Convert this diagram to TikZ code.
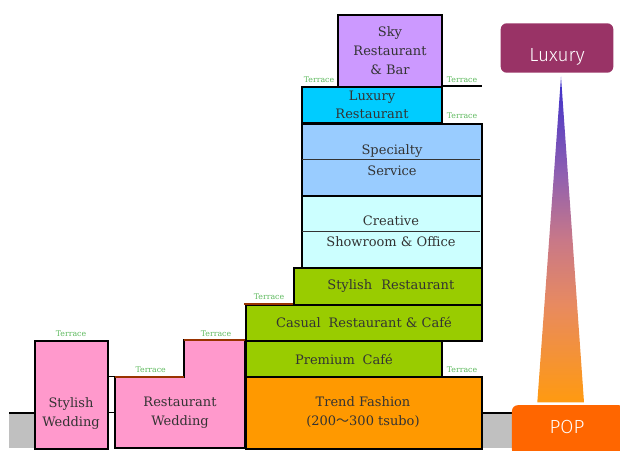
\documentclass[tikz,border=0pt]{standalone}
\usepackage{fontspec}
\newfontfamily\cjk{Noto Sans CJK JP}
\newfontfamily\tagfont{Fira Sans Light}
\newfontfamily\boxfont{DejaVu Serif}
\definecolor{skyc}{HTML}{CC99FF}
\definecolor{luxr}{HTML}{00CCFF}
\definecolor{spec}{HTML}{99CCFF}
\definecolor{crea}{HTML}{CCFFFF}
\definecolor{grn}{HTML}{99CC00}
\definecolor{trend}{HTML}{FF9900}
\definecolor{pinkc}{HTML}{FF99CC}
\definecolor{greyc}{HTML}{C0C0C0}
\definecolor{terr}{HTML}{993300}
\definecolor{terrtxt}{HTML}{5DB95D}
\definecolor{txt}{HTML}{333333}
\definecolor{luxc}{HTML}{993366}
\definecolor{popc}{HTML}{FF6600}
\definecolor{gtop}{HTML}{3A2ECC}
\definecolor{gp}{HTML}{9060B0}
\definecolor{gmid}{HTML}{C87888}
\definecolor{gs}{HTML}{E88A60}
\definecolor{gbot}{HTML}{FF9A10}
\pgfdeclareverticalshading{luxgrad}{100bp}{color(0bp)=(gbot); color(25bp)=(gbot); color(40bp)=(gs); color(50bp)=(gmid); color(60bp)=(gp); color(75bp)=(gtop); color(100bp)=(gtop)}
\tikzset{
  box/.style={draw=black, line width=2pt, anchor=north west, inner sep=0pt, text=txt,
    font=\boxfont\fontsize{13}{19}\selectfont, align=center},
  lbl/.style={text=txt, font=\boxfont\fontsize{13}{19}\selectfont, align=center, inner sep=0pt},
  terrace/.style={text=terrtxt, font=\boxfont\fontsize{7.8}{8}\selectfont, inner sep=0pt},
  divider/.style={draw=txt, line width=0.8pt},
  edge/.style={draw=black, line width=2pt},
  terrline/.style={draw=terr, line width=2pt},
  tag/.style={rounded corners=6pt, inner sep=0pt},
  tagtext/.style={text=white, inner sep=0pt, anchor=base, font=\tagfont\fontsize{19}{20}\selectfont}
}
\begin{document}
\begin{tikzpicture}[x=1pt,y=-1pt]
\useasboundingbox (0,0) rectangle (620,450);
% ground
\fill[greyc] (9,413) rectangle (34,448);
\draw[line width=2.5pt] (9,413) -- (34,413);
\fill[greyc] (481,413) rectangle (515,448);
\draw[line width=2.5pt] (481,413) -- (515,413);
\draw[line width=1pt] (106,376.7) -- (115,376.7);
\draw[line width=1pt] (106,412.7) -- (115,412.7);
% tower
\node[box, fill=skyc, minimum width=104pt, minimum height=72pt] (sky) at (337,14) {Sky\\Restaurant\\\& Bar};
\node[box, fill=luxr, minimum width=140pt, minimum height=36pt, font=\boxfont\fontsize{13}{18}\selectfont] (luxrest) at (301,86) {Luxury\\Restaurant};
\draw[edge] (441,86) -- (482,86);
\node[box, fill=spec, minimum width=180pt, minimum height=72.3pt] (spec) at (301,122.7) {Specialty\\[2pt]Service};
\draw[divider] (302,159) -- (480,159);
\node[box, fill=crea, minimum width=180pt, minimum height=71.7pt] (crea) at (301,195) {};
\draw[divider] (302,231.7) -- (480,231.7);
\node[lbl] (creatxt) at (391,221) {Creative};
\node[lbl] (showtxt) at (391,242) {Showroom \& Office};
\node[box, fill=grn, minimum width=188.3pt, minimum height=37pt] (styrest) at (292.7,266.7) {\hspace{6pt}Stylish\hspace{0.7em}Restaurant};
\node[box, fill=grn, minimum width=236pt, minimum height=36.3pt] (casual) at (245,303.7) {Casual\hspace{0.6em}Restaurant \& Café};
\draw[terrline] (244,303.7) -- (292.7,303.7);
\node[box, fill=grn, minimum width=196pt, minimum height=36.3pt] (premium) at (245,340) {Premium\hspace{0.6em}Café};
\node[box, fill=trend, minimum width=236pt, minimum height=72pt] (trendf) at (245,376.3) {};
\node[lbl] (trendtxt) at (363,412.5) {Trend Fashion\\(200{\cjk ～}300 tsubo)};
% pink wings
\node[box, fill=pinkc, minimum width=72.7pt, minimum height=108pt] (stywed) at (34,340) {};
\node[lbl] (stywedtxt) at (71,413) {Stylish\\Wedding};
\path[fill=pinkc, draw=black, line width=2pt] (115,448) -- (115,376.7) -- (184.3,376.7) -- (184.3,340) -- (245,340) -- (245,448) -- cycle;
\draw[terrline] (115,376.7) -- (184.3,376.7);
\draw[terrline] (184.3,340) -- (245,340);
\node[lbl] (restwedtxt) at (180,413) {Restaurant\\Wedding};
% terraces
\node[terrace] (t1) at (319,80) {Terrace};
\node[terrace] (t2) at (462,80) {Terrace};
\node[terrace] (t3) at (462,116) {Terrace};
\node[terrace] (t4) at (269,296.7) {Terrace};
\node[terrace] (t5) at (462,370) {Terrace};
\node[terrace] (t6) at (71,333.3) {Terrace};
\node[terrace] (t7) at (150.7,369.3) {Terrace};
\node[terrace] (t8) at (216,333.3) {Terrace};
% scale
\coordinate (apex) at (561,76.7);
\coordinate (bl) at (537.3,402.3);
\coordinate (br) at (584,402.3);
\shade[shading=luxgrad] (apex) -- (br) -- (bl) -- cycle;
\node[tag, fill=luxc, minimum width=112.6pt, minimum height=49.4pt] (luxury) at (557,48) {};
\node[tagtext] (luxurytxt) at (557,61.5) {Luxury};
\node[tag, fill=popc, minimum width=113pt, minimum height=50pt, anchor=north west] (pop) at (511.7,405) {};
\node[tagtext] (poptxt) at (567,433) {POP};
\end{tikzpicture}
\end{document}
